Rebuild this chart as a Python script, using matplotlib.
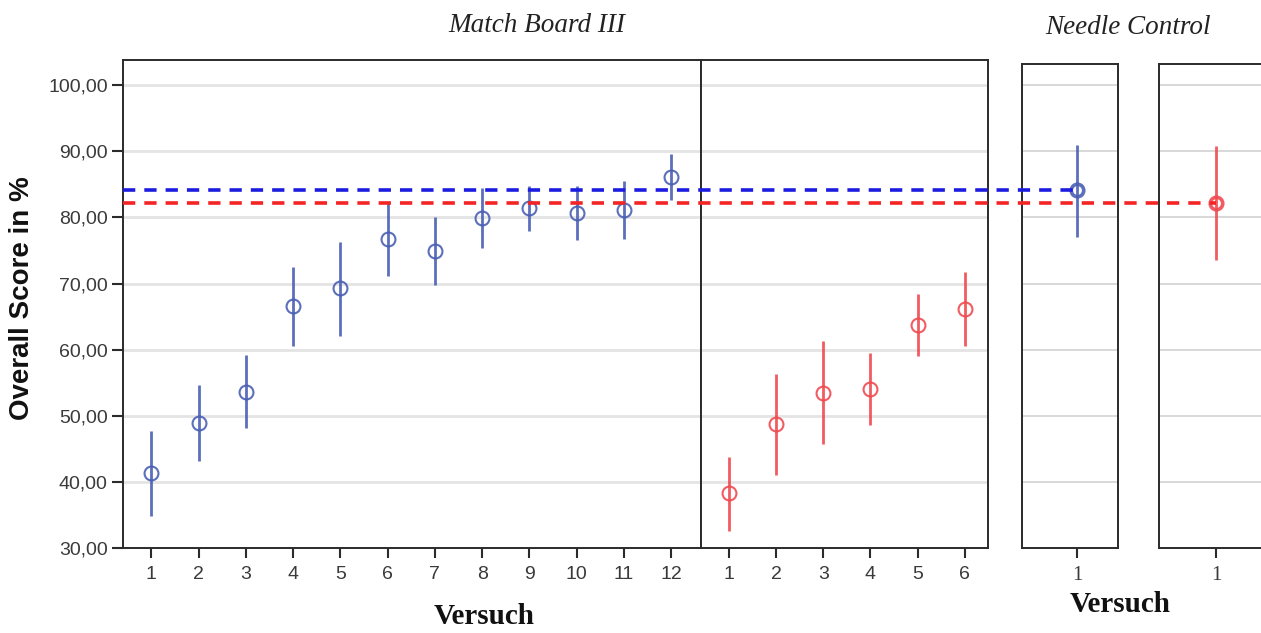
import matplotlib
matplotlib.use("Agg")
import matplotlib.pyplot as plt
from matplotlib.lines import Line2D

# Match Board III, group 1 (12 trials) and group 2 (6 trials): mean, lower and upper CI
mb_blue_mean = [41.3, 48.9, 53.6, 66.6, 69.3, 76.7, 74.9, 79.9, 81.4, 80.7, 81.1, 86.1]
mb_blue_low = [34.9, 43.1, 48.1, 60.6, 62.1, 71.1, 69.8, 75.3, 77.9, 76.6, 76.7, 82.6]
mb_blue_high = [47.7, 54.6, 59.2, 72.5, 76.3, 82.3, 80.0, 84.4, 84.7, 84.8, 85.5, 89.6]

mb_red_mean = [38.3, 48.7, 53.5, 54.0, 63.7, 66.2]
mb_red_low = [32.6, 41.0, 45.7, 48.6, 59.0, 60.6]
mb_red_high = [43.8, 56.3, 61.3, 59.5, 68.4, 71.8]

# Needle Control, one trial per group
nc_blue_mean, nc_blue_low, nc_blue_high = 84.1, 77.0, 90.9
nc_red_mean, nc_red_low, nc_red_high = 82.2, 73.5, 90.8

y_ticks = [30, 40, 50, 60, 70, 80, 90, 100]
y_ticklabels = ["30,00", "40,00", "50,00", "60,00", "70,00", "80,00", "90,00", "100,00"]

BLUE = "#4a5fb4"
RED = "#ef4a50"
GRID = "#e4e4e4"
SPINE = "#2b2b2b"
TXT = "#3a3a3a"

plt.rcParams["font.family"] = ["Liberation Sans", "DejaVu Sans"]

W, H = 1261, 633
fig = plt.figure(figsize=(W / 100, H / 100), dpi=100)


def px_axes(x0, x1, y_top, y_bot):
    return fig.add_axes([x0 / W, (H - y_bot) / H, (x1 - x0) / W, (y_bot - y_top) / H])


def style_box(ax, grid_color=GRID, grid_lw=2.0):
    for s in ax.spines.values():
        s.set_color(SPINE)
        s.set_linewidth(1.4)
    ax.set_yticks(y_ticks[1:])
    ax.yaxis.grid(True, color=grid_color, linewidth=grid_lw)
    ax.set_axisbelow(True)
    ax.tick_params(axis="x", direction="out", length=7, width=1.5, color=SPINE,
                   labelsize=14, labelcolor=TXT, pad=6)


def draw_series(ax, xs, mean, low, high, color, ms=10, mew=1.5, lw=2.0, alpha=0.9):
    for x, m, lo, hi in zip(xs, mean, low, high):
        ax.plot([x, x], [lo, hi], color=color, lw=lw, alpha=alpha, solid_capstyle="butt", zorder=3)
    ax.plot(xs, mean, "o", mfc="none", mec=color, ms=ms, mew=mew, alpha=alpha, zorder=4)


# --- Match Board III, left block (group 1) ---
ax1 = px_axes(123, 701, 60, 548)
ax1.set_ylim(30, 103.8)
ax1.set_xlim(0.4, 12.63)
style_box(ax1)
ax1.set_yticks(y_ticks)
ax1.set_yticklabels(y_ticklabels)
ax1.tick_params(axis="y", direction="out", length=8, width=1.5, color=SPINE,
                labelsize=14, labelcolor=TXT, pad=3)
x1 = list(range(1, len(mb_blue_mean) + 1))
ax1.set_xticks(x1)
draw_series(ax1, x1, mb_blue_mean, mb_blue_low, mb_blue_high, BLUE)

# --- Match Board III, right block (group 2) ---
ax2 = px_axes(701, 988, 60, 548)
ax2.set_ylim(30, 103.8)
ax2.set_xlim(0.41, 6.49)
style_box(ax2)
ax2.tick_params(axis="y", left=False, labelleft=False)
x2 = list(range(1, len(mb_red_mean) + 1))
ax2.set_xticks(x2)
draw_series(ax2, x2, mb_red_mean, mb_red_low, mb_red_high, RED)

# --- Needle Control panels ---
ax3 = px_axes(1022, 1118, 64, 548)
ax4 = px_axes(1159, 1290, 64, 548)
for ax in (ax3, ax4):
    ax.set_ylim(30, 103.2)
    style_box(ax, grid_color="#d2d2d2", grid_lw=1.2)
    ax.tick_params(axis="y", left=False, labelleft=False)
    ax.set_xticks([1])
    ax.set_xticklabels(["1"], family="Liberation Serif", fontsize=15)
ax3.set_xlim(0, 1.745)
ax4.set_xlim(0, 2.28)
draw_series(ax3, [1], [nc_blue_mean], [nc_blue_low], [nc_blue_high], BLUE, ms=9, mew=2.6, lw=2.0)
draw_series(ax4, [1], [nc_red_mean], [nc_red_low], [nc_red_high], RED, ms=9, mew=2.6, lw=2.0)

# dashed reference lines at the Needle Control means, running across all panels
to_fig = fig.transFigure.inverted()
x_start = to_fig.transform(ax1.transAxes.transform((0, 0)))[0]
for ax_end, mean, color in ((ax3, nc_blue_mean, "#1c1ce0"), (ax4, nc_red_mean, "#f42424")):
    x_end = to_fig.transform(ax_end.transData.transform((1, mean)))[0]
    y_fig = to_fig.transform(ax1.transData.transform((1, mean)))[1]
    fig.add_artist(Line2D([x_start, x_end], [y_fig, y_fig], transform=fig.transFigure,
                          color=color, lw=2.6, dashes=(3.4, 2.5), zorder=5))

# titles and axis labels
fig.text(537 / W, 1 - 25 / H, "Match Board III", family="Liberation Serif", style="italic",
         fontsize=19.5, ha="center", va="center", color="#222222")
fig.text(1128 / W, 1 - 27 / H, "Needle Control", family="Liberation Serif", style="italic",
         fontsize=19.5, ha="center", va="center", color="#222222")
fig.text(484 / W, 1 - 617 / H, "Versuch", family="Liberation Serif", weight="bold",
         fontsize=21, ha="center", va="center", color="#111111")
fig.text(1120 / W, 1 - 604 / H, "Versuch", family="Liberation Serif", weight="bold",
         fontsize=21, ha="center", va="center", color="#111111")
fig.text(22 / W, 1 - 298 / H, "Overall Score in %", family="Liberation Sans", weight="bold",
         fontsize=20, rotation=90, ha="center", va="center", color="#111111")

fig.savefig("out.png", dpi=100, facecolor="white")
